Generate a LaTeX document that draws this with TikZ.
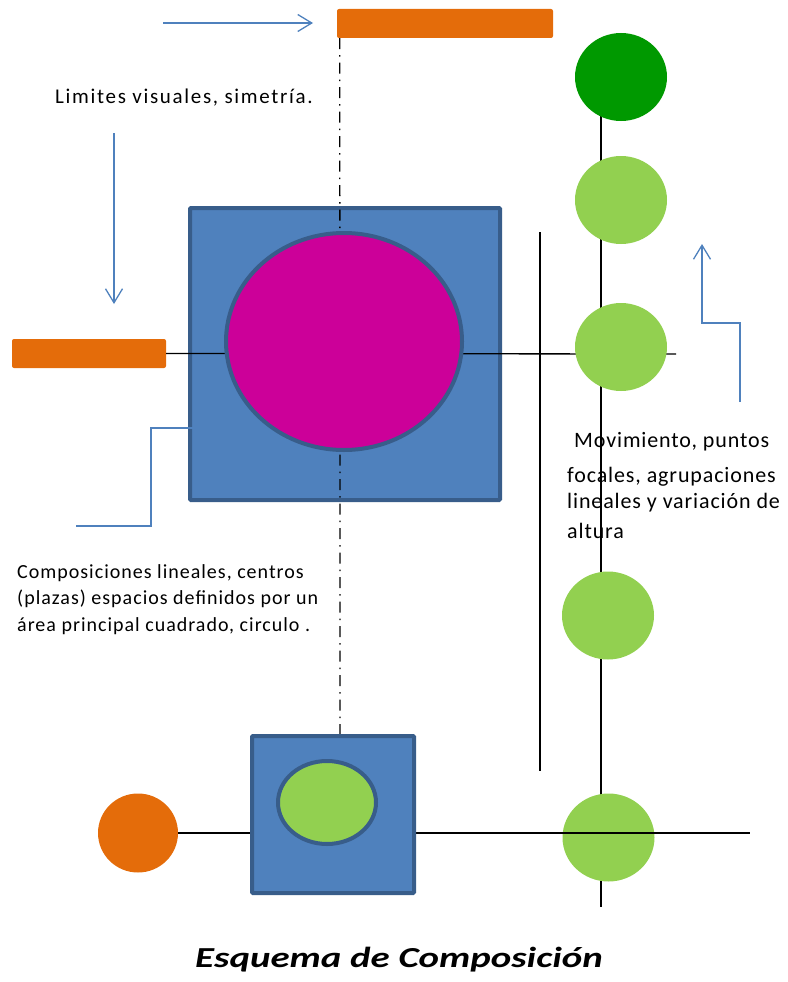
\documentclass[tikz,border=0pt]{standalone}
\usepackage{fontspec}
\setmainfont{Carlito}
\usetikzlibrary{arrows.meta,shapes.geometric}

\definecolor{azul}{HTML}{4F81BD}
\definecolor{azulosc}{HTML}{385D8A}
\definecolor{naranja}{HTML}{E46C0A}
\definecolor{fucsia}{HTML}{CC0099}
\definecolor{verde}{HTML}{92D050}
\definecolor{verdeosc}{HTML}{009900}

\tikzset{
  barra/.style={fill=naranja, rounded corners=2pt, inner sep=0pt, minimum height=29pt},
  cuadro/.style={fill=azul, draw=azulosc, line width=4pt, rounded corners=1pt, inner sep=0pt},
  bola/.style={ellipse, inner sep=0pt, minimum width=92pt, minimum height=88pt},
  flecha/.style={draw=azul, line width=1.3pt, -{Straight Barb[length=14pt,width=17pt]}},
  linea/.style={line width=1.3pt},
  ejepunto/.style={line width=1.3pt, dash pattern=on 11pt off 6pt on 1.5pt off 6pt},
  texto/.style={inner sep=0pt, anchor=base west, align=left}
}

\begin{document}
\begin{tikzpicture}[x=1pt,y=-1pt]
\useasboundingbox (0,0) rectangle (787,982);
\coordinate (ejeinf) at (340,734);
\coordinate (hder) at (676,354);
\coordinate (vsup) at (540,232);
\coordinate (vinf) at (540,771);
\coordinate (dersup) at (601,77);
\coordinate (derinf) at (601,907);
\coordinate (hfin) at (750,833);

% barras naranjas
\node[barra, minimum width=216pt] (bsup) at (445,23.5) {};
\node[barra, minimum width=154pt] (bizq) at (89,353.5) {};

% cuadro grande y circulo central
\node[cuadro, minimum width=310pt, minimum height=292pt] (cgrande) at (345,354) {};
\draw[ejepunto] ([xshift=3pt]bsup.south west) -- (ejeinf);
\draw[linea] (bizq.east) -- (hder);
\node[bola, fill=fucsia, draw=azulosc, line width=4pt, minimum width=236pt, minimum height=217pt] (circ) at (344,341.5) {};

% ejes verticales y circulos
\draw[linea] (vsup) -- (vinf);
\draw[linea] (dersup) -- (derinf);
\node[bola, fill=verdeosc] (c1) at (621,77) {};
\node[bola, fill=verde] (c2) at (621,200) {};
\node[bola, fill=verde] (c3) at (621,347) {};
\node[bola, fill=verde] (c4) at (608,615.5) {};
\node[bola, fill=verde] (c5) at (608.5,837.5) {};

% parte inferior
\node[bola, fill=naranja, minimum width=80pt, minimum height=79pt] (bnar) at (138,833) {};
\draw[linea] (bnar.east) -- (hfin);
\node[cuadro, minimum width=162pt, minimum height=157pt] (cpeq) at (333,814.5) {};
\node[bola, fill=verde, draw=azulosc, line width=4pt, minimum width=98pt, minimum height=83pt] (elip) at (327,802.5) {};

% flechas
\draw[flecha] (163,23) coordinate (f1a) -- (313,23) coordinate (f1b);
\draw[flecha] (114,133) coordinate (f2a) -- (114,304) coordinate (f2b);
\draw[flecha] (740,402) coordinate (f3a) |- (702,323) -- (702,244) coordinate (f3b);
\draw[flecha] (76,526) coordinate (f4a) -| (151,428) -- (225,428) coordinate (f4b);

% textos
\node[texto, font=\fontsize{21}{22}\selectfont\addfontfeatures{LetterSpace=8}] (tlim) at (55,103) {Limites visuales, simetría.};
\node[texto, font=\fontsize{20}{26.5}\selectfont\addfontfeatures{LetterSpace=5}] (tcomp) at (17,631)
  {Composiciones lineales, centros\\(plazas) espacios definidos por un\\área principal cuadrado, circulo .};
\node[texto, font=\fontsize{22}{26}\selectfont\addfontfeatures{LetterSpace=4}] (tmov) at (567,538)
  {\hspace{7pt}Movimiento, puntos\\[9pt]focales, agrupaciones\\lineales y variación de\\[4pt]altura};
\node[font=\fontsize{29}{30}\selectfont\bfseries\itshape, anchor=base, xscale=1.34, transform shape] (titulo) at (399,967) {Esquema de Composición};
\end{tikzpicture}
\end{document}
